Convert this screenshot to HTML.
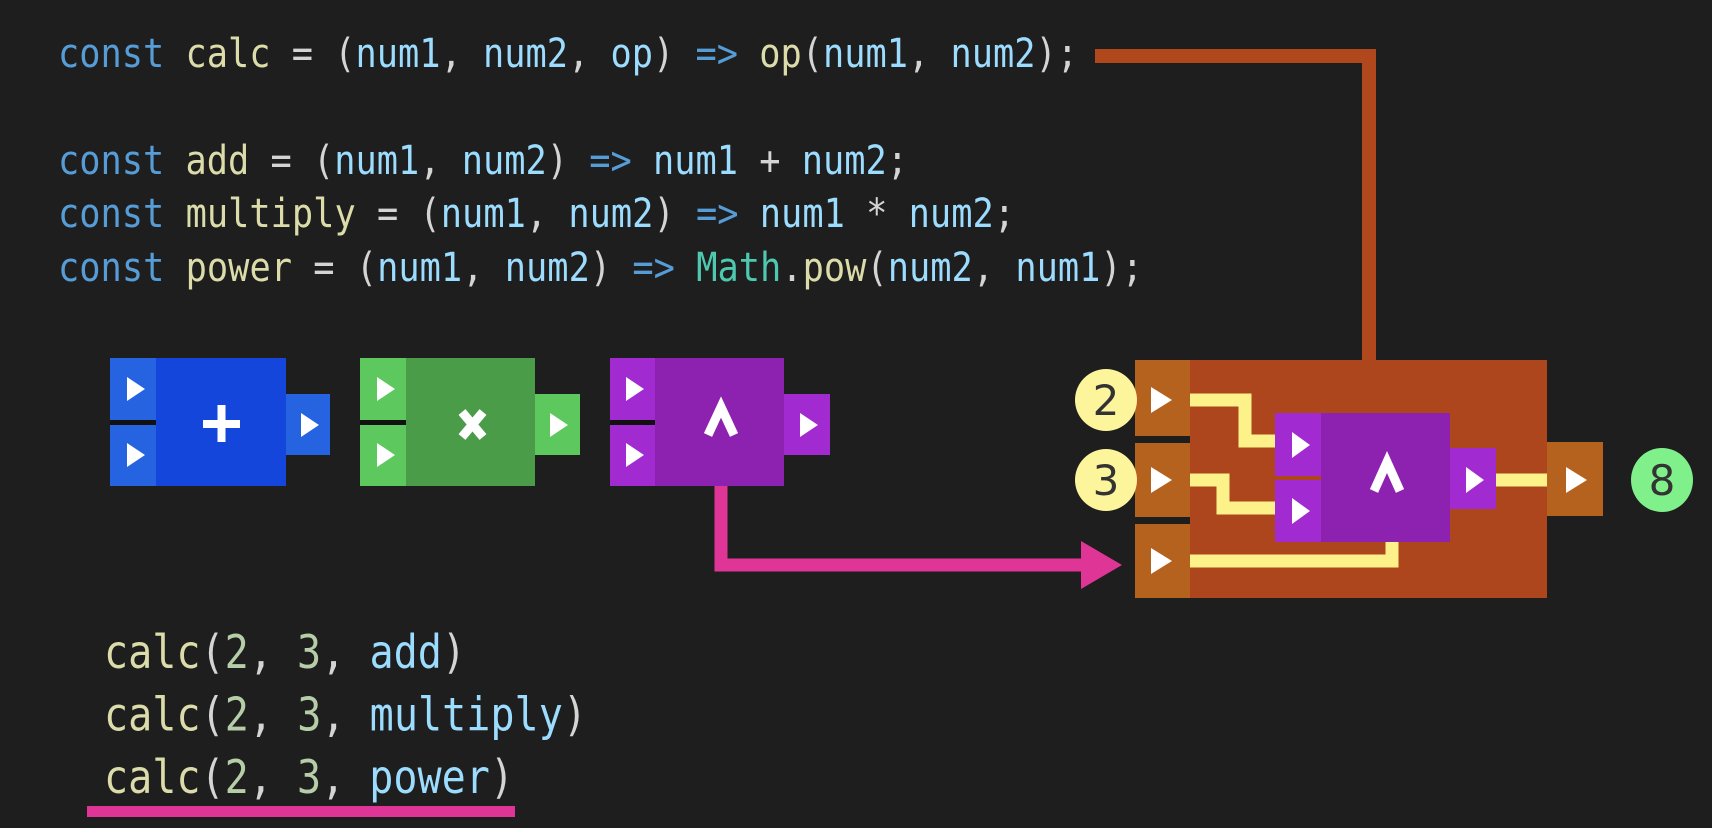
<!DOCTYPE html>
<html><head><meta charset="utf-8"><style>
html,body{margin:0;padding:0;background:#1e1e1e;}
svg{display:block;}
.c{font-family:"DejaVu Sans Mono","Liberation Mono",monospace;}
</style></head><body>
<svg width="1712" height="828" viewBox="0 0 1712 828" xmlns="http://www.w3.org/2000/svg">
<rect width="1712" height="828" fill="#1e1e1e"/>
<g class="c" font-size="34">
<text x="58" y="67" font-size="34.5" transform="translate(0,-10) scale(1,1.15)" textLength="1020" lengthAdjust="spacingAndGlyphs"><tspan fill="#569cd6">const</tspan> <tspan fill="#dcdcaa">calc</tspan> <tspan fill="#d4d4d4">=</tspan> <tspan fill="#d4d4d4">(</tspan><tspan fill="#9cdcfe">num1</tspan><tspan fill="#d4d4d4">,</tspan> <tspan fill="#9cdcfe">num2</tspan><tspan fill="#d4d4d4">,</tspan> <tspan fill="#9cdcfe">op</tspan><tspan fill="#d4d4d4">)</tspan> <tspan fill="#569cd6">=&gt;</tspan> <tspan fill="#dcdcaa">op</tspan><tspan fill="#d4d4d4">(</tspan><tspan fill="#9cdcfe">num1</tspan><tspan fill="#d4d4d4">,</tspan> <tspan fill="#9cdcfe">num2</tspan><tspan fill="#d4d4d4">);</tspan></text>
<text x="58" y="174" font-size="34.5" transform="translate(0,-26) scale(1,1.15)" textLength="850" lengthAdjust="spacingAndGlyphs"><tspan fill="#569cd6">const</tspan> <tspan fill="#dcdcaa">add</tspan> <tspan fill="#d4d4d4">=</tspan> <tspan fill="#d4d4d4">(</tspan><tspan fill="#9cdcfe">num1</tspan><tspan fill="#d4d4d4">,</tspan> <tspan fill="#9cdcfe">num2</tspan><tspan fill="#d4d4d4">)</tspan> <tspan fill="#569cd6">=&gt;</tspan> <tspan fill="#9cdcfe">num1</tspan> <tspan fill="#d4d4d4">+</tspan> <tspan fill="#9cdcfe">num2</tspan><tspan fill="#d4d4d4">;</tspan></text>
<text x="58" y="227" font-size="34.5" transform="translate(0,-34) scale(1,1.15)" textLength="957" lengthAdjust="spacingAndGlyphs"><tspan fill="#569cd6">const</tspan> <tspan fill="#dcdcaa">multiply</tspan> <tspan fill="#d4d4d4">=</tspan> <tspan fill="#d4d4d4">(</tspan><tspan fill="#9cdcfe">num1</tspan><tspan fill="#d4d4d4">,</tspan> <tspan fill="#9cdcfe">num2</tspan><tspan fill="#d4d4d4">)</tspan> <tspan fill="#569cd6">=&gt;</tspan> <tspan fill="#9cdcfe">num1</tspan> <tspan fill="#d4d4d4">*</tspan> <tspan fill="#9cdcfe">num2</tspan><tspan fill="#d4d4d4">;</tspan></text>
<text x="58" y="281" font-size="34.5" transform="translate(0,-42) scale(1,1.15)" textLength="1085" lengthAdjust="spacingAndGlyphs"><tspan fill="#569cd6">const</tspan> <tspan fill="#dcdcaa">power</tspan> <tspan fill="#d4d4d4">=</tspan> <tspan fill="#d4d4d4">(</tspan><tspan fill="#9cdcfe">num1</tspan><tspan fill="#d4d4d4">,</tspan> <tspan fill="#9cdcfe">num2</tspan><tspan fill="#d4d4d4">)</tspan> <tspan fill="#569cd6">=&gt;</tspan> <tspan fill="#4ec9b0">Math</tspan><tspan fill="#d4d4d4">.</tspan><tspan fill="#dcdcaa">pow</tspan><tspan fill="#d4d4d4">(</tspan><tspan fill="#9cdcfe">num2</tspan><tspan fill="#d4d4d4">,</tspan> <tspan fill="#9cdcfe">num1</tspan><tspan fill="#d4d4d4">);</tspan></text>

<text x="104" y="668" font-size="40" transform="translate(0,-100) scale(1,1.15)" textLength="362" lengthAdjust="spacingAndGlyphs"><tspan fill="#dcdcaa">calc</tspan><tspan fill="#d4d4d4">(</tspan><tspan fill="#b5cea8">2</tspan><tspan fill="#d4d4d4">,</tspan> <tspan fill="#b5cea8">3</tspan><tspan fill="#d4d4d4">,</tspan> <tspan fill="#9cdcfe">add</tspan><tspan fill="#d4d4d4">)</tspan></text>
<text x="104" y="730" font-size="40" transform="translate(0,-109) scale(1,1.15)" textLength="483" lengthAdjust="spacingAndGlyphs"><tspan fill="#dcdcaa">calc</tspan><tspan fill="#d4d4d4">(</tspan><tspan fill="#b5cea8">2</tspan><tspan fill="#d4d4d4">,</tspan> <tspan fill="#b5cea8">3</tspan><tspan fill="#d4d4d4">,</tspan> <tspan fill="#9cdcfe">multiply</tspan><tspan fill="#d4d4d4">)</tspan></text>
<text x="104" y="792" font-size="40" transform="translate(0,-118) scale(1,1.15)" textLength="410" lengthAdjust="spacingAndGlyphs"><tspan fill="#dcdcaa">calc</tspan><tspan fill="#d4d4d4">(</tspan><tspan fill="#b5cea8">2</tspan><tspan fill="#d4d4d4">,</tspan> <tspan fill="#b5cea8">3</tspan><tspan fill="#d4d4d4">,</tspan> <tspan fill="#9cdcfe">power</tspan><tspan fill="#d4d4d4">)</tspan></text>
</g>
<rect x="87" y="806" width="428" height="11" fill="#de3597"/>

<path d="M1095 56 H1369 V362" fill="none" stroke="#b0471d" stroke-width="14"/>

<rect x="156" y="358" width="130" height="128" fill="#1446db"/>
<rect x="110" y="358" width="46" height="62" fill="#2563e0"/>
<rect x="110" y="425" width="46" height="61" fill="#2563e0"/>
<rect x="110" y="420" width="46" height="5" fill="#111"/>
<rect x="286" y="394" width="44" height="61" fill="#2563e0"/>
<rect x="406" y="358" width="129" height="128" fill="#4a9c48"/>
<rect x="360" y="358" width="46" height="62" fill="#5cc85e"/>
<rect x="360" y="425" width="46" height="61" fill="#5cc85e"/>
<rect x="360" y="420" width="46" height="5" fill="#111"/>
<rect x="535" y="394" width="45" height="61" fill="#5cc85e"/>
<rect x="655" y="358" width="129" height="128" fill="#8e22b0"/>
<rect x="610" y="358" width="45" height="62" fill="#a12ad0"/>
<rect x="610" y="425" width="45" height="61" fill="#a12ad0"/>
<rect x="610" y="420" width="45" height="5" fill="#111"/>
<rect x="784" y="394" width="46" height="61" fill="#a12ad0"/>
<g fill="#fff">
<polygon points="127,377 145,389 127,401"/><polygon points="127,443 145,455 127,467"/><polygon points="301,413 319,425 301,437"/>
<polygon points="377,377 395,389 377,401"/><polygon points="377,443 395,455 377,467"/><polygon points="550,413 568,425 550,437"/>
<polygon points="626,377 644,389 626,401"/><polygon points="626,443 644,455 626,467"/><polygon points="800,413 818,425 800,437"/>
<rect x="203" y="420" width="37" height="8"/><rect x="217.5" y="405" width="8" height="37"/>
<path d="M462 412 L483 437 M483 412 L462 437" stroke="#fff" stroke-width="9"/>
<path d="M708 435 L721 407 L734 435" stroke="#fff" stroke-width="9" fill="none"/>
</g>

<path d="M721 486 V565 H1085" fill="none" stroke="#de3597" stroke-width="13"/>
<polygon points="1081,541 1122,565 1081,589" fill="#de3597"/>

<rect x="1135" y="360" width="412" height="238" fill="#ad461c"/>
<rect x="1135" y="360" width="55" height="76" fill="#b5621e"/>
<rect x="1135" y="443" width="55" height="74" fill="#b5621e"/>
<rect x="1135" y="524" width="55" height="74" fill="#b5621e"/>
<rect x="1135" y="436" width="55" height="7" fill="#1e1e1e"/>
<rect x="1135" y="517" width="55" height="7" fill="#1e1e1e"/>
<rect x="1547" y="442" width="56" height="74" fill="#b5621e"/>
<g fill="none" stroke="#fdf28a" stroke-width="13">
<path d="M1190 400 H1245 V441 H1276"/>
<path d="M1190 480 H1223 V508 H1276"/>
<path d="M1190 561 H1392 V540"/>
<path d="M1496 480 H1547"/>
</g>
<rect x="1321" y="413" width="129" height="129" fill="#8e22b0"/>
<rect x="1275" y="413" width="46" height="63" fill="#a12ad0"/>
<rect x="1275" y="480" width="46" height="62" fill="#a12ad0"/>
<rect x="1275" y="476" width="46" height="4" fill="#ad461c"/>
<rect x="1450" y="448" width="46" height="61" fill="#a12ad0"/>
<g fill="#fff">
<polygon points="1151,387 1172,400 1151,413"/><polygon points="1151,467 1172,480 1151,493"/><polygon points="1151,548 1172,561 1151,574"/>
<polygon points="1566,467 1587,480 1566,493"/>
<polygon points="1292,432 1310,445 1292,458"/><polygon points="1292,498 1310,511 1292,524"/><polygon points="1466,467 1484,480 1466,493"/>
<path d="M1374 491 L1387 462 L1400 491" stroke="#fff" stroke-width="9" fill="none"/>
</g>
<circle cx="1106" cy="400" r="31" fill="#fdf59b"/>
<circle cx="1106" cy="480" r="31" fill="#fdf59b"/>
<ellipse cx="1662" cy="480" rx="31" ry="32" fill="#80f08a"/>
<g font-family="'DejaVu Sans','Liberation Sans',sans-serif" font-size="42" fill="#333" text-anchor="middle">
<text x="1106" y="415">2</text><text x="1106" y="495">3</text><text x="1662" y="495">8</text>
</g>
</svg>
</body></html>
